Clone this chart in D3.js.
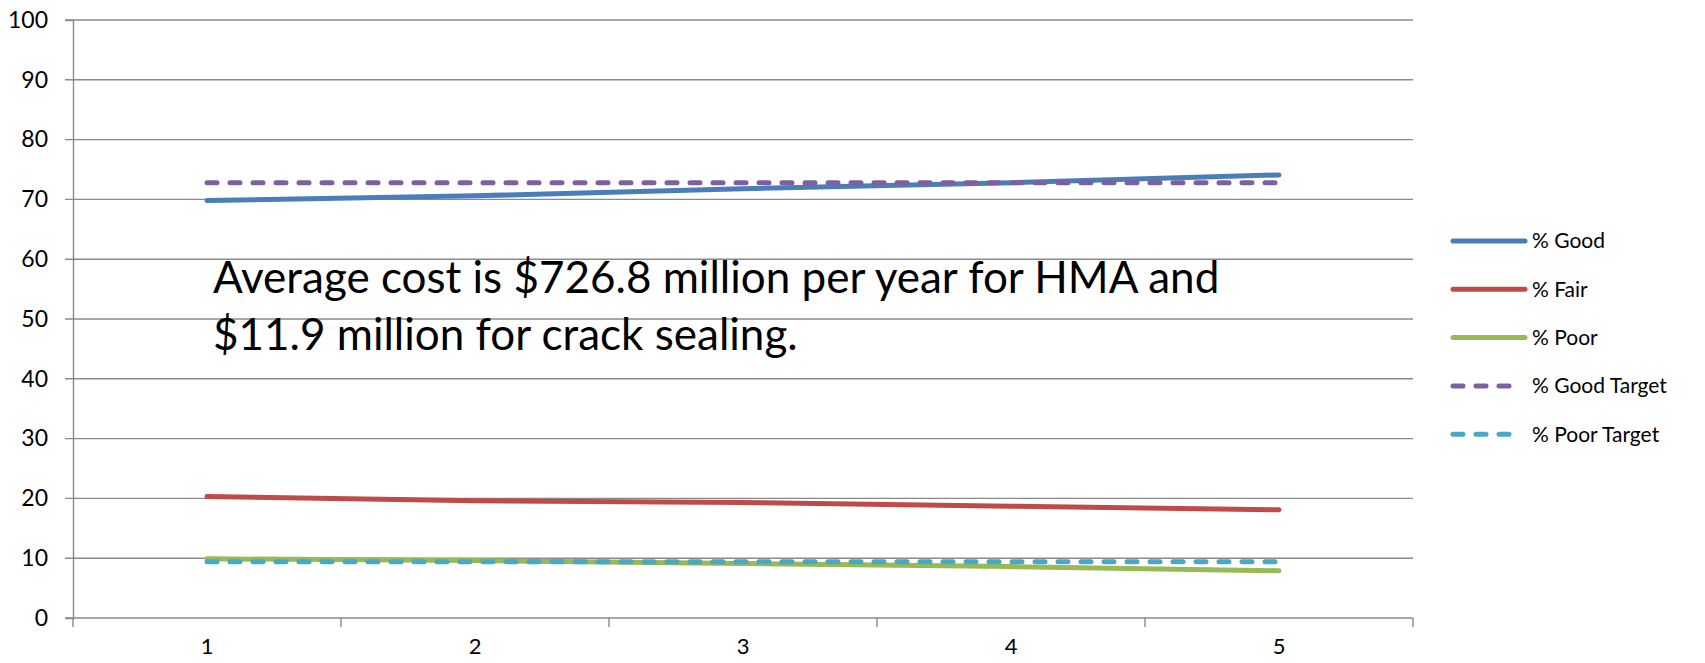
<!DOCTYPE html>
<html>
<head>
<meta charset="utf-8">
<script src="https://cdn.jsdelivr.net/npm/d3@7"></script>
<style>
  html, body { margin: 0; padding: 0; background: #fff; }
  svg { display: block; font-family: Lato, "Open Sans", sans-serif; }
</style>
</head>
<body>
<div id="chart"></div>
<script>
// Chart data
const categories = ["1", "2", "3", "4", "5"];
const good = [69.8, 70.6, 71.8, 72.8, 74.1];
const fair = [20.3, 19.6, 19.3, 18.7, 18.1];
const poor = [9.9, 9.6, 9.1, 8.6, 7.9];
const goodTarget = [72.8, 72.8, 72.8, 72.8, 72.8];
const poorTarget = [9.4, 9.4, 9.4, 9.4, 9.4];
const yTicks = [0, 10, 20, 30, 40, 50, 60, 70, 80, 90, 100];
const seriesNames = ["% Good", "% Fair", "% Poor", "% Good Target", "% Poor Target"];
const annotation = ["Average cost is $726.8 million per year for HMA and", "$11.9 million for crack sealing."];

const width = 1705;
const height = 663;
const margin = { left: 73, right: 292, top: 20, bottom: 45 };

const series = [
    { name: seriesNames[0], values: good, color: "#4a7ebb", dashed: false },
    { name: seriesNames[1], values: fair, color: "#be4b48", dashed: false },
    { name: seriesNames[2], values: poor, color: "#98b954", dashed: false },
    { name: seriesNames[3], values: goodTarget, color: "#7d60a0", dashed: true },
    { name: seriesNames[4], values: poorTarget, color: "#46aac5", dashed: true }
];

const svg = d3.select("#chart")
    .append("svg")
    .attr("width", width)
    .attr("height", height);

const x = d3.scaleBand()
    .domain(categories)
    .range([margin.left, width - margin.right])
    .padding(0);

const y = d3.scaleLinear()
    .domain([0, 100])
    .range([height - margin.bottom, margin.top]);

const gridColor = "#8a8a8a";

// Horizontal gridlines (with the small tick to the left of the axis)
svg.append("g")
    .selectAll("line")
    .data(yTicks)
    .join("line")
    .attr("x1", margin.left - 8)
    .attr("x2", width - margin.right)
    .attr("y1", d => y(d))
    .attr("y2", d => y(d))
    .attr("stroke", gridColor)
    .attr("stroke-width", 1.4);

// Y axis labels
const yAxis = svg.append("g")
    .attr("transform", `translate(${margin.left},0)`)
    .call(d3.axisLeft(y).tickValues(yTicks).tickSize(8).tickPadding(17));
yAxis.select(".domain").attr("stroke", gridColor).attr("stroke-width", 1.4);
yAxis.selectAll(".tick line").remove();
yAxis.selectAll("text")
    .attr("font-size", 23)
    .attr("font-family", "Lato, sans-serif")
    .attr("fill", "#000");

// X axis: labels at band centres, tick marks at band edges
const xAxis = svg.append("g")
    .attr("transform", `translate(0,${y(0)})`)
    .call(d3.axisBottom(x).tickSize(0).tickPadding(20));
xAxis.select(".domain").remove();
xAxis.selectAll("text")
    .attr("font-size", 22)
    .attr("font-family", "Lato, sans-serif")
    .attr("fill", "#000");

const edges = categories.map(c => x(c)).concat([x(categories[categories.length - 1]) + x.bandwidth()]);
svg.append("g")
    .selectAll("line")
    .data(edges)
    .join("line")
    .attr("x1", d => d)
    .attr("x2", d => d)
    .attr("y1", y(0))
    .attr("y2", y(0) + 9)
    .attr("stroke", gridColor)
    .attr("stroke-width", 1.4);

// Series lines
const line = d3.line()
    .x((d, i) => x(categories[i]) + x.bandwidth() / 2)
    .y(d => y(d));

svg.append("g")
    .selectAll("path")
    .data(series)
    .join("path")
    .attr("d", d => line(d.values))
    .attr("fill", "none")
    .attr("stroke", d => d.color)
    .attr("stroke-width", 5)
    .attr("stroke-linecap", "round")
    .attr("stroke-linejoin", "round")
    .attr("stroke-dasharray", d => d.dashed ? "10 13" : null);

// Annotation text inside the plot
svg.append("g")
    .selectAll("text")
    .data(annotation)
    .join("text")
    .attr("x", 213)
    .attr("y", (d, i) => 293 + i * 57)
    .attr("font-size", 44)
    .attr("fill", "#000")
    .text(d => d);

// Legend
const legend = svg.append("g")
    .selectAll("g")
    .data(series)
    .join("g")
    .attr("transform", (d, i) => `translate(1453,${241 + i * 48.3})`);

legend.append("line")
    .attr("x1", 0)
    .attr("x2", d => d.dashed ? 62 : 72)
    .attr("y1", 0)
    .attr("y2", 0)
    .attr("stroke", d => d.color)
    .attr("stroke-width", 5)
    .attr("stroke-linecap", "round")
    .attr("stroke-dasharray", d => d.dashed ? "10 13" : null);

legend.append("text")
    .attr("x", 79)
    .attr("dy", "0.35em")
    .attr("font-size", 21)
    .attr("fill", "#000")
    .text(d => d.name);
</script>
</body>
</html>
